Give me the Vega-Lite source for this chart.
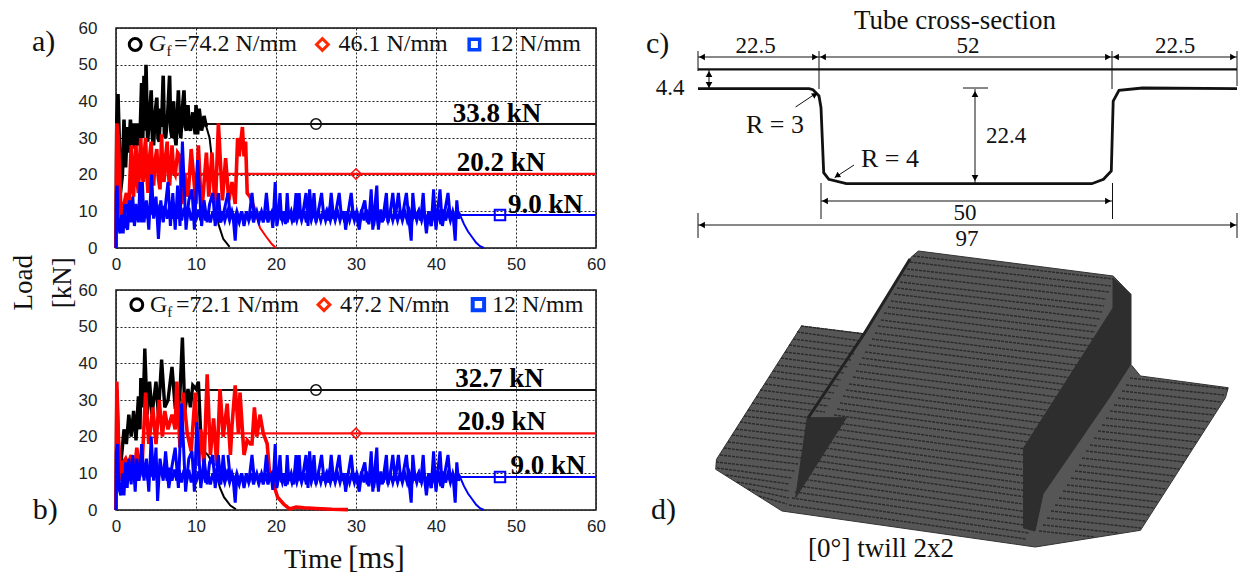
{"$schema":"https://vega.github.io/schema/vega-lite/v6.json","background":"white","padding":{"left":9,"top":7,"right":0,"bottom":0},"bounds":"flush","spacing":514,
"config":{"view":{"stroke":"#111","strokeWidth":1.5},"point":{"opacity":1},"axis":{"grid":true,"gridColor":"#222","gridDash":[2,2],"gridWidth":1,"gridOpacity":1,"domain":false,"ticks":false,"title":null,"labelFont":"Liberation Sans","labelFontSize":17,"labelColor":"#222","labelFlush":false,"labelOverlap":false},"text":{"font":"Liberation Serif","color":"#111"}},
"datasets":{
"aK":[{"t":0,"v":0},{"t":0.1,"v":35},{"t":0.25,"v":42},{"t":0.4,"v":30},{"t":0.55,"v":15},{"t":0.8,"v":20},{"t":1,"v":35},{"t":1.2,"v":22},{"t":1.4,"v":33},{"t":1.6,"v":26},{"t":1.8,"v":35},{"t":2,"v":28},{"t":2.2,"v":34},{"t":2.4,"v":27},{"t":2.6,"v":34},{"t":2.8,"v":28},{"t":3,"v":30},{"t":3.2,"v":45},{"t":3.35,"v":30},{"t":3.5,"v":47},{"t":3.65,"v":32},{"t":3.75,"v":50},{"t":3.95,"v":29},{"t":4.2,"v":36},{"t":4.4,"v":43},{"t":4.55,"v":30},{"t":4.7,"v":28},{"t":4.9,"v":37},{"t":5.1,"v":41},{"t":5.25,"v":30},{"t":5.4,"v":29},{"t":5.55,"v":38},{"t":5.7,"v":33},{"t":5.9,"v":47},{"t":6.05,"v":31},{"t":6.2,"v":30},{"t":6.45,"v":36},{"t":6.7,"v":47},{"t":6.85,"v":32},{"t":7,"v":30},{"t":7.2,"v":40},{"t":7.35,"v":31},{"t":7.5,"v":28},{"t":7.8,"v":43},{"t":7.95,"v":33},{"t":8.1,"v":30},{"t":8.3,"v":38},{"t":8.5,"v":43},{"t":8.65,"v":33},{"t":8.8,"v":32},{"t":9,"v":39},{"t":9.15,"v":33},{"t":9.3,"v":32},{"t":9.6,"v":37},{"t":9.9,"v":31},{"t":10,"v":39},{"t":10.2,"v":31},{"t":10.4,"v":38},{"t":10.7,"v":32},{"t":11,"v":36},{"t":11.3,"v":33}],
"aR":[{"t":0,"v":0},{"t":0.1,"v":34},{"t":0.3,"v":30},{"t":0.5,"v":17},{"t":0.7,"v":6},{"t":1,"v":12},{"t":1.3,"v":15},{"t":1.6,"v":11},{"t":1.9,"v":28},{"t":2.05,"v":16},{"t":2.2,"v":14},{"t":2.35,"v":24},{"t":2.5,"v":28},{"t":2.65,"v":18},{"t":2.8,"v":15},{"t":2.95,"v":24},{"t":3.1,"v":30},{"t":3.25,"v":20},{"t":3.4,"v":18},{"t":3.55,"v":26},{"t":3.7,"v":30},{"t":3.85,"v":20},{"t":4,"v":15},{"t":4.2,"v":25},{"t":4.4,"v":29},{"t":4.55,"v":20},{"t":4.7,"v":17},{"t":4.9,"v":24},{"t":5.1,"v":27},{"t":5.3,"v":19},{"t":5.5,"v":16},{"t":5.7,"v":31},{"t":5.85,"v":20},{"t":6,"v":18},{"t":6.2,"v":25},{"t":6.4,"v":29},{"t":6.55,"v":20},{"t":6.7,"v":17},{"t":7,"v":28},{"t":7.2,"v":21},{"t":7.4,"v":20},{"t":7.7,"v":26},{"t":8,"v":25},{"t":8.2,"v":12},{"t":8.6,"v":20},{"t":9,"v":14},{"t":9.4,"v":27},{"t":10,"v":12},{"t":10.3,"v":28},{"t":10.7,"v":9},{"t":11.3,"v":26},{"t":11.6,"v":14},{"t":12,"v":26},{"t":12.4,"v":10},{"t":12.8,"v":34},{"t":13.3,"v":13},{"t":13.7,"v":24.5},{"t":14.1,"v":13},{"t":14.5,"v":18},{"t":14.9,"v":12},{"t":15.2,"v":30},{"t":15.4,"v":25},{"t":15.8,"v":33},{"t":16,"v":25},{"t":16.2,"v":29},{"t":16.4,"v":15},{"t":16.75,"v":14},{"t":17.4,"v":10}],
"aB":[{"t":0,"v":0},{"t":0.05,"v":15},{"t":0.15,"v":17},{"t":0.3,"v":6},{"t":0.5,"v":4},{"t":0.7,"v":9},{"t":0.9,"v":4},{"t":1.1,"v":12},{"t":1.25,"v":6},{"t":1.45,"v":5},{"t":1.7,"v":13},{"t":1.9,"v":7},{"t":2.1,"v":14},{"t":2.3,"v":6},{"t":2.55,"v":11},{"t":2.8,"v":7},{"t":3,"v":18},{"t":3.2,"v":7},{"t":3.3,"v":18},{"t":3.5,"v":7},{"t":3.8,"v":13},{"t":4.1,"v":5},{"t":4.45,"v":20},{"t":4.7,"v":8},{"t":5,"v":14},{"t":5.3,"v":2.5},{"t":5.6,"v":13},{"t":5.9,"v":7},{"t":6.2,"v":12},{"t":6.5,"v":18},{"t":6.8,"v":6},{"t":7.1,"v":15},{"t":7.4,"v":5},{"t":7.7,"v":17},{"t":8,"v":6},{"t":8.3,"v":29},{"t":8.75,"v":5},{"t":9.1,"v":13},{"t":9.5,"v":16},{"t":9.8,"v":5},{"t":10.2,"v":24},{"t":10.7,"v":6},{"t":11,"v":13},{"t":11.4,"v":7},{"t":11.7,"v":12},{"t":12.1,"v":15},{"t":12.4,"v":6},{"t":12.8,"v":15},{"t":13.1,"v":7},{"t":13.5,"v":10},{"t":14,"v":15}],
"bK":[{"t":0,"v":0},{"t":0.1,"v":33},{"t":0.3,"v":17},{"t":0.5,"v":10},{"t":1,"v":22},{"t":1.3,"v":18},{"t":1.6,"v":26},{"t":1.9,"v":20},{"t":2.2,"v":27},{"t":2.5,"v":19},{"t":2.8,"v":31},{"t":3,"v":22},{"t":3.1,"v":36},{"t":3.4,"v":28},{"t":3.6,"v":44},{"t":3.9,"v":26},{"t":4.2,"v":35},{"t":4.5,"v":26},{"t":5,"v":35},{"t":5.3,"v":26},{"t":5.7,"v":41},{"t":6.1,"v":28},{"t":6.5,"v":30},{"t":7,"v":39},{"t":7.4,"v":28},{"t":7.8,"v":28},{"t":8,"v":32},{"t":8.3,"v":47},{"t":8.6,"v":27},{"t":9,"v":33},{"t":9.3,"v":28},{"t":9.6,"v":34},{"t":10,"v":33},{"t":10.3,"v":35},{"t":10.6,"v":20},{"t":11,"v":16}],
"bR":[{"t":0,"v":0},{"t":0.1,"v":35},{"t":0.3,"v":20},{"t":0.6,"v":8},{"t":0.9,"v":13},{"t":1.2,"v":14},{"t":1.5,"v":12},{"t":1.9,"v":15},{"t":2.3,"v":10},{"t":2.6,"v":17},{"t":2.9,"v":12},{"t":3.3,"v":14},{"t":3.7,"v":32},{"t":4.1,"v":18},{"t":4.6,"v":28},{"t":5,"v":18},{"t":5.4,"v":30},{"t":5.8,"v":20},{"t":6.1,"v":27},{"t":6.5,"v":22},{"t":7,"v":26},{"t":7.4,"v":22},{"t":7.6,"v":35},{"t":8,"v":17},{"t":8.4,"v":32},{"t":8.9,"v":21},{"t":9.4,"v":16},{"t":9.9,"v":32},{"t":10.3,"v":12},{"t":10.6,"v":22},{"t":11,"v":12},{"t":11.4,"v":37},{"t":11.8,"v":15},{"t":12.2,"v":25},{"t":12.6,"v":12},{"t":13,"v":33},{"t":13.4,"v":20},{"t":13.9,"v":29},{"t":14.3,"v":15},{"t":14.5,"v":23},{"t":14.9,"v":34},{"t":15.3,"v":21},{"t":15.5,"v":32},{"t":16,"v":15},{"t":16.4,"v":19},{"t":16.8,"v":18},{"t":17,"v":18},{"t":17.3,"v":28},{"t":17.6,"v":20},{"t":18,"v":26},{"t":18.4,"v":21},{"t":18.9,"v":18},{"t":19.2,"v":10},{"t":19.7,"v":7},{"t":20.2,"v":3.5},{"t":21,"v":1.5},{"t":21.7,"v":0.3},{"t":22.5,"v":0.8},{"t":23.5,"v":0.6},{"t":25,"v":0.4},{"t":27,"v":0.2},{"t":29,"v":0.1}],
"bB":[{"t":0,"v":0},{"t":0.05,"v":16},{"t":0.2,"v":18},{"t":0.35,"v":6},{"t":0.6,"v":4},{"t":0.8,"v":10},{"t":1,"v":4},{"t":1.2,"v":13},{"t":1.4,"v":6},{"t":1.6,"v":14},{"t":1.9,"v":7},{"t":2.1,"v":15},{"t":2.4,"v":5},{"t":2.6,"v":14},{"t":2.9,"v":8},{"t":3.2,"v":18},{"t":3.5,"v":8},{"t":3.8,"v":14},{"t":4.1,"v":5},{"t":4.4,"v":20},{"t":4.7,"v":8},{"t":5,"v":17},{"t":5.2,"v":2.5},{"t":5.5,"v":14},{"t":5.9,"v":8},{"t":6.2,"v":16},{"t":6.6,"v":6},{"t":7,"v":12},{"t":7.4,"v":17},{"t":7.8,"v":6},{"t":8.2,"v":29},{"t":8.7,"v":5},{"t":9.1,"v":14},{"t":9.5,"v":16},{"t":9.8,"v":5},{"t":10.1,"v":24},{"t":10.6,"v":6},{"t":11,"v":14},{"t":11.4,"v":7},{"t":11.7,"v":13},{"t":12.1,"v":15},{"t":12.4,"v":6},{"t":12.8,"v":15},{"t":13.1,"v":7},{"t":13.4,"v":15},{"t":13.7,"v":8},{"t":14,"v":11}],
"tail":[{"t":14,"v":15},{"t":14.3,"v":8},{"t":14.6,"v":9.5},{"t":14.9,"v":2},{"t":15.1,"v":9},{"t":15.4,"v":7},{"t":15.7,"v":10},{"t":16,"v":6},{"t":16.3,"v":9.5},{"t":16.6,"v":7.5},{"t":17,"v":15},{"t":17.3,"v":8},{"t":17.6,"v":10},{"t":17.9,"v":7.5},{"t":18.2,"v":10},{"t":18.5,"v":8},{"t":18.8,"v":15},{"t":19.1,"v":8},{"t":19.4,"v":9.5},{"t":19.6,"v":5.5},{"t":19.9,"v":18},{"t":20.1,"v":6},{"t":20.3,"v":9},{"t":20.5,"v":15},{"t":20.7,"v":7.5},{"t":21,"v":10},{"t":21.2,"v":6.5},{"t":21.4,"v":15},{"t":21.6,"v":8},{"t":21.9,"v":10},{"t":22.2,"v":7},{"t":22.5,"v":15},{"t":22.7,"v":8},{"t":22.9,"v":15},{"t":23.1,"v":8},{"t":23.4,"v":10},{"t":23.75,"v":15},{"t":24,"v":6},{"t":24.2,"v":16},{"t":24.5,"v":8},{"t":24.75,"v":15},{"t":25,"v":7},{"t":25.3,"v":10},{"t":25.7,"v":15},{"t":26,"v":8},{"t":26.3,"v":10},{"t":26.6,"v":7.5},{"t":26.9,"v":15},{"t":27.2,"v":8},{"t":27.5,"v":10},{"t":27.9,"v":15},{"t":28.2,"v":8},{"t":28.5,"v":10},{"t":28.7,"v":5},{"t":29,"v":9.5},{"t":29.4,"v":15},{"t":29.7,"v":8},{"t":30,"v":10},{"t":30.4,"v":5},{"t":30.7,"v":10},{"t":31.1,"v":13},{"t":31.4,"v":7},{"t":31.7,"v":10},{"t":31.9,"v":16},{"t":32.1,"v":5},{"t":32.3,"v":10},{"t":32.6,"v":17},{"t":32.8,"v":5},{"t":33,"v":10},{"t":33.3,"v":7},{"t":33.8,"v":15},{"t":34,"v":7},{"t":34.3,"v":10},{"t":34.6,"v":15},{"t":34.9,"v":8},{"t":35.3,"v":15},{"t":35.6,"v":8},{"t":35.9,"v":10},{"t":36.3,"v":15},{"t":36.6,"v":8},{"t":36.9,"v":2},{"t":37.1,"v":15},{"t":37.4,"v":8},{"t":37.8,"v":10},{"t":38.1,"v":7.5},{"t":38.4,"v":15},{"t":38.6,"v":8},{"t":38.8,"v":4},{"t":39.1,"v":10},{"t":39.4,"v":6},{"t":39.7,"v":16},{"t":40,"v":5},{"t":40.2,"v":10},{"t":40.5,"v":16},{"t":40.8,"v":6},{"t":41.1,"v":10},{"t":41.5,"v":15},{"t":41.8,"v":8},{"t":42.1,"v":10},{"t":42.4,"v":2},{"t":42.6,"v":13},{"t":42.8,"v":8},{"t":43,"v":9}],
"band":[{"t":1,"v":9},{"t":1.3,"v":12},{"t":1.6,"v":8},{"t":1.9,"v":12},{"t":2.2,"v":9},{"t":2.5,"v":12},{"t":2.8,"v":8},{"t":3.1,"v":12},{"t":3.4,"v":9},{"t":3.7,"v":12},{"t":4,"v":8},{"t":4.3,"v":12},{"t":4.6,"v":9},{"t":4.9,"v":12},{"t":5.2,"v":8},{"t":5.5,"v":12},{"t":5.8,"v":9},{"t":6.1,"v":11.5},{"t":6.4,"v":8},{"t":6.7,"v":11.5},{"t":7,"v":8},{"t":7.3,"v":11},{"t":7.6,"v":8},{"t":7.9,"v":11},{"t":8.2,"v":7.5},{"t":8.5,"v":11},{"t":8.8,"v":7.5},{"t":9.1,"v":11},{"t":9.4,"v":7.5},{"t":9.7,"v":10.5},{"t":10,"v":7.5},{"t":10.3,"v":10.5},{"t":10.6,"v":7.5},{"t":10.9,"v":10.5},{"t":11.2,"v":7.5},{"t":11.5,"v":10},{"t":11.8,"v":7},{"t":12.1,"v":10},{"t":12.4,"v":7.5},{"t":12.7,"v":10},{"t":13,"v":7},{"t":13.3,"v":10},{"t":13.6,"v":7.5},{"t":13.9,"v":10},{"t":14.2,"v":7.5},{"t":14.5,"v":10},{"t":14.8,"v":7.5},{"t":15.1,"v":10},{"t":15.4,"v":7.5},{"t":15.7,"v":10},{"t":16,"v":7},{"t":16.3,"v":10},{"t":16.6,"v":7.5},{"t":16.9,"v":10},{"t":17.2,"v":7},{"t":17.5,"v":10},{"t":17.8,"v":7.5},{"t":18.1,"v":10},{"t":18.4,"v":7},{"t":18.7,"v":10},{"t":19,"v":7},{"t":19.3,"v":10},{"t":19.6,"v":7},{"t":19.9,"v":10},{"t":20.2,"v":7.5},{"t":20.5,"v":10},{"t":20.8,"v":7.5},{"t":21.1,"v":10},{"t":21.4,"v":7},{"t":21.7,"v":10},{"t":22,"v":7.5},{"t":22.3,"v":10},{"t":22.6,"v":7.5},{"t":22.9,"v":10},{"t":23.2,"v":7.5},{"t":23.5,"v":10},{"t":23.8,"v":7},{"t":24.1,"v":10},{"t":24.4,"v":7.5},{"t":24.7,"v":10},{"t":25,"v":7.5},{"t":25.3,"v":10},{"t":25.6,"v":7.5},{"t":25.9,"v":10},{"t":26.2,"v":7.5},{"t":26.5,"v":10},{"t":26.8,"v":7.5},{"t":27.1,"v":10},{"t":27.4,"v":7.5},{"t":27.7,"v":10},{"t":28,"v":7.5},{"t":28.3,"v":10},{"t":28.6,"v":7},{"t":28.9,"v":10},{"t":29.2,"v":7.5},{"t":29.5,"v":10},{"t":29.8,"v":7.5},{"t":30.1,"v":10},{"t":30.4,"v":7.5},{"t":30.7,"v":10.5},{"t":31,"v":7.5},{"t":31.3,"v":10.5},{"t":31.6,"v":6.5},{"t":31.9,"v":10.5},{"t":32.2,"v":6},{"t":32.5,"v":10.5},{"t":32.8,"v":6},{"t":33.1,"v":10.5},{"t":33.4,"v":7.5},{"t":33.7,"v":10},{"t":34,"v":7.5},{"t":34.3,"v":10},{"t":34.6,"v":7.5},{"t":34.9,"v":10},{"t":35.2,"v":7.5},{"t":35.5,"v":10},{"t":35.8,"v":7.5},{"t":36.1,"v":10},{"t":36.4,"v":7.5},{"t":36.7,"v":10},{"t":37,"v":7.5},{"t":37.3,"v":10},{"t":37.6,"v":7.5},{"t":37.9,"v":10},{"t":38.2,"v":7.5},{"t":38.5,"v":10},{"t":38.8,"v":7},{"t":39.1,"v":10},{"t":39.4,"v":6},{"t":39.7,"v":10.5},{"t":40,"v":6},{"t":40.3,"v":10.5},{"t":40.6,"v":6.5},{"t":40.9,"v":10.5},{"t":41.2,"v":7.5},{"t":41.5,"v":10},{"t":41.8,"v":7.5},{"t":42.1,"v":10},{"t":42.4,"v":7.5},{"t":42.7,"v":10},{"t":43,"v":9}],
"poly":[{"f":"all","i":0,"x":801.5,"y":325},{"f":"all","i":1,"x":863.8,"y":332.7},{"f":"all","i":2,"x":910.6,"y":256.7},{"f":"all","i":3,"x":918.4,"y":250},{"f":"all","i":4,"x":1113.2,"y":275},{"f":"all","i":5,"x":1130.8,"y":293.3},{"f":"all","i":6,"x":1130.8,"y":363.3},{"f":"all","i":7,"x":1140.5,"y":375},{"f":"all","i":8,"x":1228.2,"y":386.7},{"f":"all","i":9,"x":1225.5,"y":396.7},{"f":"all","i":10,"x":1140.5,"y":529.3},{"f":"all","i":11,"x":1035.3,"y":546},{"f":"all","i":12,"x":782,"y":510},{"f":"all","i":13,"x":715.7,"y":468.3},{"f":"all","i":14,"x":716.5,"y":458.3},{"f":"all","i":15,"x":801.5,"y":325}],
"dark":[{"f":"tri","i":0,"x":807.3,"y":416.7},{"f":"tri","i":1,"x":846.3,"y":416.7},{"f":"tri","i":2,"x":795.6,"y":496.7},{"f":"tri","i":3,"x":807.3,"y":416.7},{"f":"wall","i":0,"x":1113,"y":277},{"f":"wall","i":1,"x":1130.8,"y":293.3},{"f":"wall","i":2,"x":1130.8,"y":363},{"f":"wall","i":3,"x":1109,"y":397},{"f":"wall","i":4,"x":1043,"y":493},{"f":"wall","i":5,"x":1035,"y":530},{"f":"wall","i":6,"x":1023.6,"y":527},{"f":"wall","i":7,"x":1023.6,"y":447},{"f":"wall","i":8,"x":1113,"y":307},{"f":"wall","i":9,"x":1113,"y":277}],
"mesh":[{"x":913,"y":255,"x2":1113,"y2":278},{"x":910,"y":261,"x2":1111,"y2":285},{"x":907,"y":268,"x2":1109,"y2":291},{"x":903,"y":274,"x2":1106,"y2":298},{"x":900,"y":281,"x2":1104,"y2":305},{"x":897,"y":287,"x2":1102,"y2":311},{"x":894,"y":293,"x2":1100,"y2":318},{"x":891,"y":300,"x2":1097,"y2":325},{"x":888,"y":306,"x2":1095,"y2":331},{"x":884,"y":312,"x2":1093,"y2":338},{"x":881,"y":319,"x2":1091,"y2":345},{"x":878,"y":325,"x2":1089,"y2":351},{"x":875,"y":332,"x2":1086,"y2":358},{"x":872,"y":338,"x2":1084,"y2":365},{"x":869,"y":344,"x2":1082,"y2":371},{"x":865,"y":351,"x2":1080,"y2":378},{"x":862,"y":357,"x2":1077,"y2":385},{"x":859,"y":363,"x2":1075,"y2":391},{"x":856,"y":370,"x2":1073,"y2":398},{"x":853,"y":376,"x2":1071,"y2":405},{"x":849,"y":383,"x2":1069,"y2":412},{"x":846,"y":389,"x2":1066,"y2":418},{"x":843,"y":395,"x2":1064,"y2":425},{"x":840,"y":402,"x2":1062,"y2":432},{"x":837,"y":408,"x2":1060,"y2":438},{"x":834,"y":414,"x2":1057,"y2":445},{"x":830,"y":421,"x2":1055,"y2":452},{"x":827,"y":427,"x2":1053,"y2":458},{"x":824,"y":434,"x2":1051,"y2":465},{"x":821,"y":440,"x2":1048,"y2":472},{"x":818,"y":446,"x2":1046,"y2":478},{"x":815,"y":453,"x2":1044,"y2":485},{"x":811,"y":459,"x2":1042,"y2":492},{"x":808,"y":465,"x2":1040,"y2":498},{"x":805,"y":472,"x2":1037,"y2":505},{"x":802,"y":478,"x2":1035,"y2":512},{"x":799,"y":485,"x2":1033,"y2":518},{"x":795,"y":491,"x2":1031,"y2":525},{"x":792,"y":497,"x2":1029,"y2":532},{"x":789,"y":504,"x2":1026,"y2":538},
{"x":801,"y":325,"x2":864,"y2":333},{"x":797,"y":331,"x2":861,"y2":340},{"x":793,"y":338,"x2":857,"y2":346},{"x":789,"y":344,"x2":854,"y2":353},{"x":785,"y":351,"x2":851,"y2":359},{"x":781,"y":357,"x2":848,"y2":366},{"x":777,"y":364,"x2":844,"y2":372},{"x":773,"y":370,"x2":841,"y2":379},{"x":769,"y":376,"x2":838,"y2":385},{"x":765,"y":383,"x2":834,"y2":392},{"x":760,"y":389,"x2":831,"y2":398},{"x":756,"y":396,"x2":828,"y2":405},{"x":752,"y":402,"x2":825,"y2":411},{"x":748,"y":409,"x2":821,"y2":418},{"x":744,"y":415,"x2":818,"y2":424},{"x":740,"y":421,"x2":815,"y2":431},{"x":736,"y":428,"x2":811,"y2":437},{"x":732,"y":434,"x2":808,"y2":444},{"x":728,"y":441,"x2":805,"y2":450},{"x":724,"y":447,"x2":801,"y2":457},{"x":720,"y":454,"x2":798,"y2":463},{"x":716,"y":461,"x2":795,"y2":470},{"x":717,"y":467,"x2":792,"y2":477},{"x":726,"y":474,"x2":789,"y2":483},{"x":737,"y":481,"x2":789,"y2":490},{"x":748,"y":488,"x2":789,"y2":497},{"x":759,"y":495,"x2":787,"y2":503},
{"x":1130,"y":377,"x2":1228,"y2":388},{"x":1126,"y":384,"x2":1224,"y2":394},{"x":1122,"y":390,"x2":1221,"y2":401},{"x":1118,"y":397,"x2":1217,"y2":408},{"x":1114,"y":404,"x2":1214,"y2":414},{"x":1110,"y":410,"x2":1210,"y2":421},{"x":1106,"y":417,"x2":1205,"y2":428},{"x":1102,"y":424,"x2":1201,"y2":434},{"x":1098,"y":430,"x2":1197,"y2":441},{"x":1094,"y":437,"x2":1192,"y2":448},{"x":1090,"y":444,"x2":1188,"y2":455},{"x":1086,"y":450,"x2":1184,"y2":461},{"x":1082,"y":457,"x2":1179,"y2":468},{"x":1079,"y":464,"x2":1175,"y2":475},{"x":1075,"y":470,"x2":1170,"y2":481},{"x":1071,"y":477,"x2":1166,"y2":488},{"x":1067,"y":484,"x2":1162,"y2":494},{"x":1063,"y":490,"x2":1158,"y2":501},{"x":1059,"y":497,"x2":1154,"y2":507},{"x":1055,"y":504,"x2":1149,"y2":514},{"x":1051,"y":510,"x2":1145,"y2":520},{"x":1047,"y":517,"x2":1141,"y2":527},{"x":1043,"y":524,"x2":1119,"y2":532},{"x":1039,"y":530,"x2":1095,"y2":536}],
"profile":[{"i":0,"x":698,"y":87.7},{"i":1,"x":809,"y":87.7},{"i":2,"x":813,"y":88.7},{"i":3,"x":819,"y":95},{"i":4,"x":821,"y":106.7},{"i":5,"x":823.7,"y":171.7},{"i":6,"x":828.8,"y":178.3},{"i":7,"x":846.3,"y":182.7},{"i":8,"x":1091.8,"y":182.7},{"i":9,"x":1103.5,"y":178.3},{"i":10,"x":1111.3,"y":170},{"i":11,"x":1113.2,"y":100},{"i":12,"x":1119,"y":89.3},{"i":13,"x":1142.5,"y":87},{"i":14,"x":1237,"y":87.7}],
"dims":[{"x":698,"y":56,"x2":1237,"y2":56},{"x":698,"y":50,"x2":698,"y2":70},{"x":819,"y":50,"x2":819,"y2":88},{"x":1112,"y":50,"x2":1112,"y2":88},{"x":1237,"y":50,"x2":1237,"y2":85},{"x":709,"y":69,"x2":709,"y2":88},{"x":975,"y":88,"x2":975,"y2":182},{"x":963,"y":87,"x2":988,"y2":87},{"x":795.6,"y":106,"x2":817,"y2":91.7},{"x":854,"y":164,"x2":834.6,"y2":176.7},{"x":821,"y":182,"x2":821,"y2":218},{"x":1112.5,"y":182,"x2":1112.5,"y2":218},{"x":821,"y":200,"x2":1112,"y2":200},{"x":698,"y":224,"x2":1237,"y2":224},{"x":698,"y":212,"x2":698,"y2":237},{"x":1237,"y":212,"x2":1237,"y2":237}],
"arrows":[{"x":702,"y":56,"d":"left"},{"x":815,"y":56,"d":"right"},{"x":823,"y":56,"d":"left"},{"x":1108,"y":56,"d":"right"},{"x":1116,"y":56,"d":"left"},{"x":1233,"y":56,"d":"right"},{"x":709,"y":73,"d":"up"},{"x":709,"y":84,"d":"down"},{"x":975,"y":93,"d":"up"},{"x":975,"y":177,"d":"down"},{"x":825,"y":200,"d":"left"},{"x":1108,"y":200,"d":"right"},{"x":702,"y":224,"d":"left"},{"x":1233,"y":224,"d":"right"}]
},
"hconcat":[
{"vconcat":[
{"width":480,"height":220,"encoding":{"x":{"field":"t","type":"quantitative","scale":{"domain":[0,60],"nice":false},"axis":{"labelPadding":8,"values":[0,10,20,30,40,50,60]}},"y":{"field":"v","type":"quantitative","scale":{"domain":[0,60],"nice":false},"axis":{"labelPadding":19,"values":[0,10,20,30,40,50,60]}}},
"layer":[
{"data":{"values":[{"t":11,"v":33.8},{"t":60,"v":33.8}]},"mark":{"type":"line","color":"#111","strokeWidth":2}},
{"data":{"values":[{"t":7,"v":20.2},{"t":60,"v":20.2}]},"mark":{"type":"line","color":"#ff1010","strokeWidth":2.2}},
{"data":{"name":"aK"},"mark":{"type":"line","color":"#000","strokeWidth":3.6}},
{"data":{"values":[{"t":11.3,"v":33},{"t":11.7,"v":30},{"t":12.2,"v":20},{"t":12.8,"v":6.5},{"t":13.4,"v":2.5},{"t":14.2,"v":0.3}]},"mark":{"type":"line","color":"#000","strokeWidth":2}},
{"data":{"name":"aR"},"mark":{"type":"line","color":"#ff0000","strokeWidth":3.6}},
{"data":{"values":[{"t":17.4,"v":10},{"t":18,"v":5.5},{"t":18.8,"v":3},{"t":19.5,"v":1},{"t":20,"v":0}]},"mark":{"type":"line","color":"#ff0000","strokeWidth":2}},
{"data":{"name":"aB"},"mark":{"type":"line","color":"#0000ff","strokeWidth":3}},
{"data":{"name":"tail"},"mark":{"type":"line","color":"#0000ff","strokeWidth":3}},
{"data":{"name":"band"},"mark":{"type":"line","color":"#0000ff","strokeWidth":3}},
{"data":{"values":[{"t":43,"v":9},{"t":60,"v":9}]},"mark":{"type":"line","color":"#0000ff","strokeWidth":2}},
{"data":{"values":[{"t":43,"v":9},{"t":43.5,"v":6.5},{"t":44,"v":4.5},{"t":44.5,"v":3},{"t":45,"v":1.5},{"t":45.5,"v":0.5},{"t":46,"v":0}]},"mark":{"type":"line","color":"#0000ff","strokeWidth":2}},
{"data":{"values":[{"t":25,"v":33.8}]},"mark":{"type":"point","shape":"circle","color":"#111","size":110,"strokeWidth":1.5}},
{"data":{"values":[{"t":30,"v":20.2}]},"mark":{"type":"point","shape":"diamond","color":"#ff1010","size":110,"strokeWidth":1.5}},
{"data":{"values":[{"t":48,"v":9}]},"mark":{"type":"point","shape":"square","color":"#0000ff","size":110,"strokeWidth":2}},
{"data":{"values":[{"t":2.4,"v":55.5}]},"mark":{"type":"point","shape":"circle","color":"#000","size":140,"strokeWidth":3}},
{"data":{"values":[{"t":25.8,"v":55.5}]},"mark":{"type":"point","shape":"diamond","color":"#ff2a00","size":140,"strokeWidth":3}},
{"data":{"values":[{"t":44.8,"v":55.5}]},"mark":{"type":"point","shape":"square","color":"#0040ff","size":110,"strokeWidth":3.5}},
{"data":{"values":[{"t":4.1,"v":53.7,"s":"G"}]},"mark":{"type":"text","align":"left","baseline":"alphabetic","fontSize":24,"fontStyle":"italic"},"encoding":{"text":{"field":"s"}}},
{"data":{"values":[{"t":6.3,"v":52.4,"s":"f"}]},"mark":{"type":"text","align":"left","baseline":"alphabetic","fontSize":15},"encoding":{"text":{"field":"s"}}},
{"data":{"values":[{"t":7.25,"v":53.7,"s":"=74.2 N/mm"},{"t":27.8,"v":53.7,"s":"46.1 N/mm"},{"t":46.7,"v":53.7,"s":"12 N/mm"}]},"mark":{"type":"text","align":"left","baseline":"alphabetic","fontSize":24},"encoding":{"text":{"field":"s"}}},
{"data":{"values":[{"t":42.1,"v":34.4,"s":"33.8 kN"},{"t":42.6,"v":21,"s":"20.2 kN"},{"t":49,"v":9.6,"s":"9.0 kN"}]},"mark":{"type":"text","align":"left","baseline":"alphabetic","fontSize":27,"fontWeight":"bold","color":"#000"},"encoding":{"text":{"field":"s"}}},
{"data":{"values":[{"t":-10.5,"v":53.7,"s":"a)"}]},"mark":{"type":"text","align":"left","baseline":"alphabetic","fontSize":30},"encoding":{"text":{"field":"s"}}},
{"data":{"values":[{"t":-11.5,"v":-9.5,"s":"Load"},{"t":-6.6,"v":-9.5,"s":"[kN]"}]},"mark":{"type":"text","align":"center","baseline":"middle","angle":270,"fontSize":27},"encoding":{"text":{"field":"s"}}}
]},
{"width":480,"height":220,"encoding":{"x":{"field":"t","type":"quantitative","scale":{"domain":[0,60],"nice":false},"axis":{"labelPadding":8,"values":[0,10,20,30,40,50,60]}},"y":{"field":"v","type":"quantitative","scale":{"domain":[0,60],"nice":false},"axis":{"labelPadding":19,"values":[0,10,20,30,40,50,60]}}},
"layer":[
{"data":{"values":[{"t":10,"v":32.7},{"t":60,"v":32.7}]},"mark":{"type":"line","color":"#111","strokeWidth":2}},
{"data":{"values":[{"t":3.5,"v":20.9},{"t":60,"v":20.9}]},"mark":{"type":"line","color":"#ff1010","strokeWidth":2.2}},
{"data":{"name":"bK"},"mark":{"type":"line","color":"#000","strokeWidth":3.4}},
{"data":{"values":[{"t":11,"v":16},{"t":11.5,"v":15},{"t":12,"v":13},{"t":12.5,"v":10},{"t":13,"v":6},{"t":13.5,"v":3.5},{"t":14.3,"v":1.2},{"t":15,"v":0.2}]},"mark":{"type":"line","color":"#000","strokeWidth":2}},
{"data":{"name":"bR"},"mark":{"type":"line","color":"#ff0000","strokeWidth":3.6}},
{"data":{"name":"bB"},"mark":{"type":"line","color":"#0000ff","strokeWidth":3}},
{"data":{"name":"tail"},"mark":{"type":"line","color":"#0000ff","strokeWidth":3}},
{"data":{"name":"band"},"mark":{"type":"line","color":"#0000ff","strokeWidth":3}},
{"data":{"values":[{"t":43,"v":9},{"t":60,"v":9}]},"mark":{"type":"line","color":"#0000ff","strokeWidth":2}},
{"data":{"values":[{"t":43,"v":9},{"t":43.5,"v":6.5},{"t":44,"v":4.5},{"t":44.5,"v":3},{"t":45,"v":1.5},{"t":45.5,"v":0.5},{"t":46,"v":0}]},"mark":{"type":"line","color":"#0000ff","strokeWidth":2}},
{"data":{"values":[{"t":25,"v":32.7}]},"mark":{"type":"point","shape":"circle","color":"#111","size":110,"strokeWidth":1.5}},
{"data":{"values":[{"t":30,"v":20.9}]},"mark":{"type":"point","shape":"diamond","color":"#ff1010","size":110,"strokeWidth":1.5}},
{"data":{"values":[{"t":48,"v":9}]},"mark":{"type":"point","shape":"square","color":"#0000ff","size":110,"strokeWidth":2}},
{"data":{"values":[{"t":2.6,"v":56}]},"mark":{"type":"point","shape":"circle","color":"#000","size":140,"strokeWidth":3}},
{"data":{"values":[{"t":26,"v":56}]},"mark":{"type":"point","shape":"diamond","color":"#ff2a00","size":140,"strokeWidth":3}},
{"data":{"values":[{"t":45.3,"v":56}]},"mark":{"type":"point","shape":"square","color":"#0040ff","size":130,"strokeWidth":4}},
{"data":{"values":[{"t":4.25,"v":54.1,"s":"G"}]},"mark":{"type":"text","align":"left","baseline":"alphabetic","fontSize":24},"encoding":{"text":{"field":"s"}}},
{"data":{"values":[{"t":6.4,"v":52.7,"s":"f"}]},"mark":{"type":"text","align":"left","baseline":"alphabetic","fontSize":15},"encoding":{"text":{"field":"s"}}},
{"data":{"values":[{"t":7.5,"v":54.1,"s":"=72.1 N/mm"},{"t":28,"v":54.1,"s":"47.2 N/mm"},{"t":47,"v":54.1,"s":"12 N/mm"}]},"mark":{"type":"text","align":"left","baseline":"alphabetic","fontSize":24},"encoding":{"text":{"field":"s"}}},
{"data":{"values":[{"t":42.4,"v":33.6,"s":"32.7 kN"},{"t":42.7,"v":21.8,"s":"20.9 kN"},{"t":49.3,"v":9.9,"s":"9.0 kN"}]},"mark":{"type":"text","align":"left","baseline":"alphabetic","fontSize":27,"fontWeight":"bold","color":"#000"},"encoding":{"text":{"field":"s"}}},
{"data":{"values":[{"t":-10.4,"v":-2.5,"s":"b)"}]},"mark":{"type":"text","align":"left","baseline":"alphabetic","fontSize":30},"encoding":{"text":{"field":"s"}}},
{"data":{"values":[{"t":21,"v":-15.8,"s":"Time"}]},"mark":{"type":"text","align":"left","baseline":"alphabetic","fontSize":28},"encoding":{"text":{"field":"s"}}},
{"data":{"values":[{"t":29,"v":-15.8,"s":"[ms]"}]},"mark":{"type":"text","align":"left","baseline":"alphabetic","fontSize":31},"encoding":{"text":{"field":"s"}}}
]}
],"bounds":"flush","spacing":42},
{"width":609,"height":482,"view":{"stroke":null},
"encoding":{"x":{"field":"x","type":"quantitative","scale":{"domain":[630,1239],"nice":false,"zero":false},"axis":null},"y":{"field":"y","type":"quantitative","scale":{"domain":[509,27],"nice":false,"zero":false},"axis":null}},
"layer":[
{"data":{"name":"poly"},"mark":{"type":"line","fill":"#565656","stroke":"#333","strokeWidth":1},"encoding":{"order":{"field":"i"}}},
{"data":{"name":"mesh"},"mark":{"type":"rule","color":"#2a2a2a","strokeWidth":1.4,"strokeDash":[3,1]},"encoding":{"x2":{"field":"x2"},"y2":{"field":"y2"}}},
{"data":{"name":"dark"},"mark":{"type":"line","fill":"#2e2e2e","stroke":"#2e2e2e","strokeWidth":1},"encoding":{"order":{"field":"i"},"detail":{"field":"f"}}},
{"data":{"values":[{"x":910,"y":258},{"x":864,"y":333},{"x":808,"y":417}]},"mark":{"type":"line","color":"#222","strokeWidth":3}},
{"data":{"name":"profile"},"mark":{"type":"line","color":"#111","strokeWidth":2.8},"encoding":{"order":{"field":"i"}}},
{"data":{"values":[{"x":698,"y":68.3,"x2":1237,"y2":68.3}]},"mark":{"type":"rule","color":"#111","strokeWidth":2.2},"encoding":{"x2":{"field":"x2"},"y2":{"field":"y2"}}},
{"data":{"name":"dims"},"mark":{"type":"rule","color":"#111","strokeWidth":1},"encoding":{"x2":{"field":"x2"},"y2":{"field":"y2"}}},
{"data":{"name":"arrows"},"mark":{"type":"point","filled":true,"color":"#000","size":45,"opacity":1},"encoding":{"shape":{"field":"d","type":"nominal","legend":null,"scale":{"domain":["left","right","up","down"],"range":["triangle-left","triangle-right","triangle-up","triangle-down"]}}}},
{"data":{"values":[{"x":815,"y":93.5}]},"mark":{"type":"point","filled":true,"shape":"triangle-up","angle":56,"color":"#000","size":40,"opacity":1}},
{"data":{"values":[{"x":837,"y":175}]},"mark":{"type":"point","filled":true,"shape":"triangle-up","angle":236,"color":"#000","size":40,"opacity":1}},
{"data":{"values":[{"x":670,"y":87,"s":"4.4"},{"x":755.5,"y":45,"s":"22.5"},{"x":968,"y":45,"s":"52"},{"x":1175,"y":45,"s":"22.5"},{"x":1006,"y":135,"s":"22.4"},{"x":965,"y":212,"s":"50"},{"x":967,"y":238,"s":"97"}]},"mark":{"type":"text","align":"center","baseline":"middle","fontSize":23},"encoding":{"text":{"field":"s"}}},
{"data":{"values":[{"x":775,"y":124,"s":"R = 3"},{"x":890,"y":158,"s":"R = 4"}]},"mark":{"type":"text","align":"center","baseline":"middle","fontSize":26},"encoding":{"text":{"field":"s"}}},
{"data":{"values":[{"x":955,"y":20,"s":"Tube cross-section"},{"x":881,"y":548,"s":"[0°] twill 2x2"}]},"mark":{"type":"text","align":"center","baseline":"middle","fontSize":27},"encoding":{"text":{"field":"s"}}},
{"data":{"values":[{"x":646,"y":52,"s":"c)"},{"x":651,"y":518,"s":"d)"}]},"mark":{"type":"text","align":"left","baseline":"alphabetic","fontSize":30},"encoding":{"text":{"field":"s"}}}
]}
]}
